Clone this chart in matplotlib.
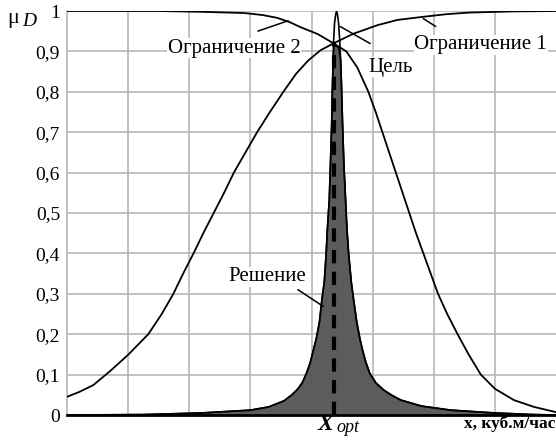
import numpy as np
import matplotlib
matplotlib.use("Agg")
import matplotlib.pyplot as plt

# curve readings (x in grid units 0..8, y = membership)
c1_x = [0.0, 0.2, 0.43, 0.7, 1.0, 1.33, 1.55, 1.74, 1.9, 2.07, 2.23, 2.40, 2.57, 2.73,
        2.92, 3.11, 3.32, 3.54, 3.75, 3.95, 4.15, 4.36, 4.69, 5.08, 5.41, 5.79, 6.2,
        6.56, 7.3, 8.0]
c1_y = [0.045, 0.057, 0.074, 0.108, 0.149, 0.20, 0.25, 0.30, 0.35, 0.40, 0.45, 0.50,
        0.55, 0.60, 0.65, 0.70, 0.75, 0.80, 0.845, 0.878, 0.903, 0.92, 0.944, 0.965,
        0.978, 0.985, 0.992, 0.996, 0.999, 1.0]

c2_x = [0.0, 1.5, 2.2, 2.9, 3.2, 3.44, 3.65, 3.82, 4.1, 4.36, 4.57, 4.75, 4.93, 5.05,
        5.16, 5.27, 5.38, 5.49, 5.60, 5.71, 5.83, 5.95, 6.07, 6.22, 6.39, 6.57, 6.77,
        7.0, 7.31, 7.64, 8.0]
c2_y = [1.0, 1.0, 0.998, 0.995, 0.99, 0.983, 0.972, 0.96, 0.943, 0.92, 0.90, 0.86,
        0.80, 0.75, 0.70, 0.65, 0.60, 0.55, 0.50, 0.45, 0.40, 0.35, 0.30, 0.25, 0.20,
        0.15, 0.10, 0.065, 0.037, 0.02, 0.007]

goal_x = [0.0, 1.25, 2.2, 3.0, 3.3, 3.55, 3.68, 3.78, 3.85, 3.92, 3.98, 4.03, 4.08,
          4.13, 4.17, 4.21, 4.24, 4.26, 4.29, 4.31, 4.33, 4.344, 4.36, 4.377, 4.394,
          4.41, 4.426, 4.443, 4.46, 4.476, 4.49, 4.508, 4.53, 4.558, 4.58, 4.607,
          4.65, 4.689, 4.74, 4.79, 4.836, 4.89, 4.951, 5.05, 5.18, 5.3, 5.46, 5.8,
          6.28, 7.0, 7.64, 8.0]
goal_y = [0.0, 0.001, 0.005, 0.012, 0.02, 0.035, 0.05, 0.065, 0.08, 0.104, 0.13,
          0.16, 0.19, 0.23, 0.285, 0.33, 0.40, 0.46, 0.53, 0.62, 0.72, 0.82, 0.92,
          0.97, 0.99, 1.0, 0.99, 0.97, 0.93, 0.88, 0.82, 0.72, 0.62, 0.53, 0.46,
          0.40, 0.33, 0.285, 0.23, 0.19, 0.16, 0.13, 0.104, 0.08, 0.062, 0.05,
          0.037, 0.022, 0.012, 0.005, 0.001, 0.0]

sol_x = [0.0, 1.25, 2.2, 3.0, 3.3, 3.55, 3.68, 3.78, 3.85, 3.92, 3.98, 4.03, 4.08,
         4.13, 4.17, 4.21, 4.24, 4.26, 4.29, 4.31, 4.33, 4.344, 4.37, 4.41, 4.445,
         4.476, 4.49, 4.508, 4.53, 4.558, 4.58, 4.607,
         4.65, 4.689, 4.74, 4.79, 4.836, 4.89, 4.951, 5.05, 5.18, 5.3, 5.46, 5.8,
         6.28, 7.0, 7.64, 8.0]
sol_y = [0.0, 0.001, 0.005, 0.012, 0.02, 0.035, 0.05, 0.065, 0.08, 0.104, 0.13,
         0.16, 0.19, 0.23, 0.285, 0.33, 0.40, 0.46, 0.53, 0.62, 0.72, 0.82, 0.92,
         0.914, 0.908, 0.88, 0.82, 0.72, 0.62, 0.53, 0.46, 0.40,
         0.33, 0.285, 0.23, 0.19, 0.16, 0.13, 0.104, 0.08, 0.062, 0.05,
         0.037, 0.022, 0.012, 0.005, 0.001, 0.0]

x_opt = 4.37
y_ticks = [0, 0.1, 0.2, 0.3, 0.4, 0.5, 0.6, 0.7, 0.8, 0.9, 1.0]
y_labels = ["0", "0,1", "0,2", "0,3", "0,4", "0,5", "0,6", "0,7", "0,8", "0,9", "1"]

plt.rcParams['font.family'] = ['Liberation Serif', 'DejaVu Serif']

fig = plt.figure(figsize=(5.56, 4.42), dpi=100)
ax = fig.add_axes([67 / 556, 27 / 442, 489 / 556, 404 / 442])

ax.set_xlim(0, 8)
ax.set_ylim(0, 1)
ax.set_xticks(range(1, 8))
ax.set_xticklabels([])
ax.set_yticks(y_ticks)
ax.set_yticklabels(y_labels, fontsize=14)
ax.tick_params(length=0, pad=5)
ax.grid(True, color='#b8b8b8', lw=1.2)
ax.set_axisbelow(True)
for s in ['top', 'right']:
    ax.spines[s].set_visible(False)
ax.spines['left'].set_color('#b8b8b8')
ax.spines['left'].set_linewidth(1.2)
ax.spines['bottom'].set_color('black')
ax.spines['bottom'].set_linewidth(2)

# solution (shaded), then curves on top
ax.fill_between(sol_x, sol_y, 0, color='#5c5c5c', lw=0, zorder=2)
ax.plot(sol_x, sol_y, color='black', lw=1.2, zorder=3)
ax.plot(goal_x, goal_y, color='black', lw=1.2, zorder=3)
ax.plot(c1_x, c1_y, color='black', lw=1.3, zorder=3)
ax.plot(c2_x, c2_y, color='black', lw=1.3, zorder=3)
ax.plot([x_opt, x_opt], [0, 0.92], color='black', lw=3, dashes=(3.2, 2.0), zorder=4)

# labels and pointer lines
lbl = dict(fontsize=15, ha='center', va='center', zorder=5,
           bbox=dict(facecolor='white', edgecolor='none', pad=0.5))
ax.text(2.74, 0.908, "Ограничение 2", **lbl)
ax.text(6.77, 0.916, "Ограничение 1", **lbl)
ax.text(5.30, 0.861, "Цель", **lbl)
ax.text(3.28, 0.342, "Решение", **lbl)
ptr = dict(arrowstyle='-', color='black', lw=1.1)
ax.annotate("", xy=(3.66, 0.978), xytext=(3.08, 0.948), arrowprops=ptr)
ax.annotate("", xy=(5.79, 0.985), xytext=(6.07, 0.958), arrowprops=ptr)
ax.annotate("", xy=(4.43, 0.965), xytext=(5.0, 0.916), arrowprops=ptr)
ax.annotate("", xy=(4.23, 0.265), xytext=(3.74, 0.314), arrowprops=ptr)

fig.text(7 / 556, 1 - 18 / 442, "μ", fontsize=16, va='center', ha='left')
fig.text(22 / 556, 1 - 22 / 442, "D", fontsize=14, style='italic', va='center', ha='left')
fig.text(318 / 556, 1 - 424 / 442, "X", fontsize=17, style='italic', weight='bold',
         va='center', ha='left')
fig.text(336 / 556, 1 - 427 / 442, "opt", fontsize=13, style='italic', va='center', ha='left')
fig.text(555 / 556, 1 - 424 / 442, "x, куб.м/час", fontsize=12.5, weight='bold',
         va='center', ha='right')

fig.savefig("out.png", dpi=100)
